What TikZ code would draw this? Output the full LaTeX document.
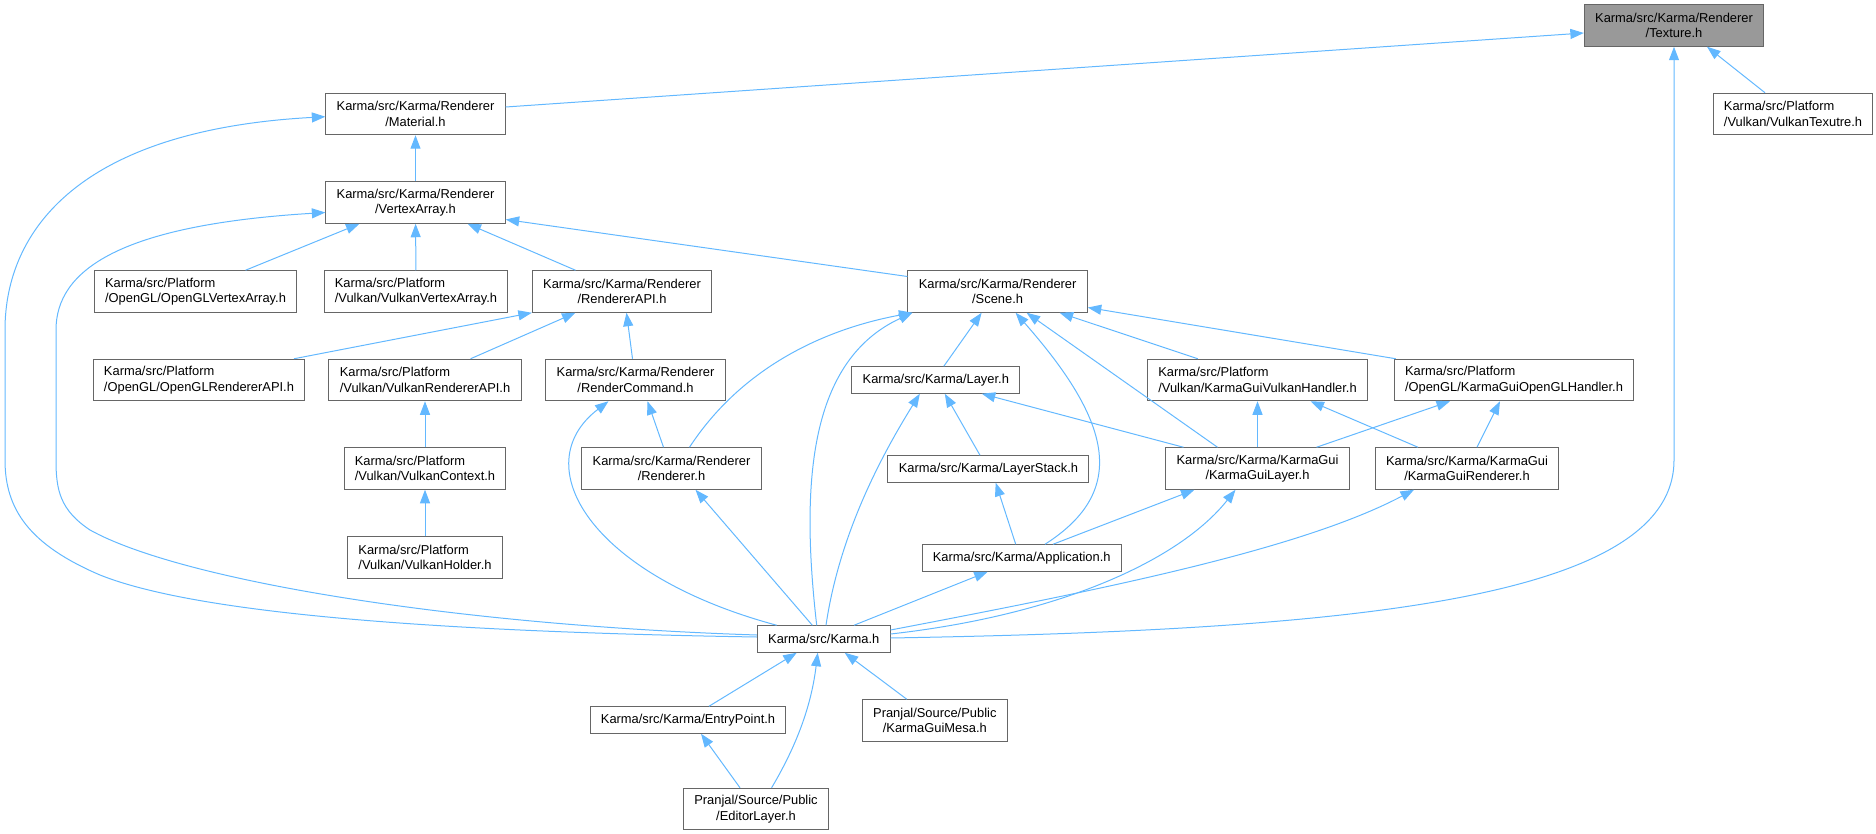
\documentclass[tikz,border=0pt]{standalone}
\usepackage{fontspec}
\setmainfont{Liberation Sans}
\usetikzlibrary{arrows.meta}
\definecolor{edgeblue}{HTML}{63B8FF}
\definecolor{boxgray}{HTML}{666666}
\definecolor{hilite}{HTML}{999999}
\begin{document}
\begin{tikzpicture}[x=1pt, y=-1pt, >={Triangle[length=13.5pt,width=10pt]}]

    \tikzset{file/.style={%
      draw=boxgray,%
      line width=1pt,%
      rectangle,%
      font=\fontsize{12.9}{15.5}\selectfont,%
      align=center,%
      inner xsep=10.8pt,%
      inner ysep=2pt,%
      minimum height=41.5pt}%
    };
    \tikzset{platform/.style={file, align=left}};
    \tikzset{oneline/.style={file, minimum height=26.5pt}};
    \tikzset{dep/.style={draw=edgeblue, line width=1pt, ->}};

    \useasboundingbox (0,0) rectangle (1876,834);

    %%%%%%%%%%%%%
    % renderer  %
    %%%%%%%%%%%%%
    \node[file, fill=hilite] (tex) at (1674,25.5) {Karma/src/Karma/Renderer\\/Texture.h};
    \node[file] (mat) at (415.5,114) {Karma/src/Karma/Renderer\\/Material.h};
    \node[platform] (vktex) at (1793,114) {Karma/src/Platform\\/Vulkan/VulkanTexutre.h};
    \node[file] (varr) at (415.5,202.5) {Karma/src/Karma/Renderer\\/VertexArray.h};

    \node[platform] (glva) at (195.5,291.5) {Karma/src/Platform\\/OpenGL/OpenGLVertexArray.h};
    \node[platform] (vkva) at (416,291.5) {Karma/src/Platform\\/Vulkan/VulkanVertexArray.h};
    \node[file] (rapi) at (622,291.5) {Karma/src/Karma/Renderer\\/RendererAPI.h};
    \node[file] (scene) at (997.6,291.5) {Karma/src/Karma/Renderer\\/Scene.h};

    \node[platform] (glrapi) at (199,380) {Karma/src/Platform\\/OpenGL/OpenGLRendererAPI.h};
    \node[platform] (vkrapi) at (425,380) {Karma/src/Platform\\/Vulkan/VulkanRendererAPI.h};
    \node[file] (rcmd) at (635.5,380) {Karma/src/Karma/Renderer\\/RenderCommand.h};
    \node[oneline] (layer) at (935.8,380) {Karma/src/Karma/Layer.h};
    \node[platform] (vkgui) at (1257.5,380) {Karma/src/Platform\\/Vulkan/KarmaGuiVulkanHandler.h};
    \node[platform] (glgui) at (1514,380) {Karma/src/Platform\\/OpenGL/KarmaGuiOpenGLHandler.h};

    \node[platform] (vkctx) at (425,468.5) {Karma/src/Platform\\/Vulkan/VulkanContext.h};
    \node[file] (rend) at (671.5,468.5) {Karma/src/Karma/Renderer\\/Renderer.h};
    \node[oneline] (lstack) at (988.4,469) {Karma/src/Karma/LayerStack.h};
    \node[file] (guilayer) at (1257.5,468.5) {Karma/src/Karma/KarmaGui\\/KarmaGuiLayer.h};
    \node[file] (guirend) at (1467,468.5) {Karma/src/Karma/KarmaGui\\/KarmaGuiRenderer.h};

    \node[platform] (vkhold) at (425,557.5) {Karma/src/Platform\\/Vulkan/VulkanHolder.h};
    \node[oneline] (app) at (1021.7,558) {Karma/src/Karma/Application.h};

    %%%%%%%%%%%%%
    % includers %
    %%%%%%%%%%%%%
    \node[oneline] (karma) at (823.7,639) {Karma/src/Karma.h};
    \node[oneline] (entry) at (688,720) {Karma/src/Karma/EntryPoint.h};
    \node[file] (mesa) at (934.8,720.5) {Pranjal/Source/Public\\/KarmaGuiMesa.h};
    \node[file] (editor) at (756,809) {Pranjal/Source/Public\\/EditorLayer.h};

    % into Texture.h
    \draw[dep] ([yshift=7pt]mat.east) -- ([yshift=-7.5pt]tex.west);
    \draw[dep] ([xshift=-28pt]vktex.north) -- ([xshift=33pt]tex.south);
    \draw[dep] ([yshift=1pt]karma.east) .. controls (1350,630) and (1674,600) .. (1674,460) -- (tex.south);

    % into Material.h and VertexArray.h
    \draw[dep] (varr) -- (mat);
    \draw[dep] ([yshift=2pt]karma.west) .. controls (450,632) and (200,615) .. (100,575)
      .. controls (30,545) and (5,510) .. (5,460) -- (5,330)
      .. controls (5,230) and (80,130) .. ([yshift=-2.7pt]mat.west);
    \draw[dep] ([yshift=4pt]karma.west) .. controls (450,625) and (180,580) .. (90,530)
      .. controls (60,510) and (56,490) .. (56,460) -- (56,330)
      .. controls (56,270) and (120,225) .. ([yshift=-10pt]varr.west);
    \draw[dep] ([xshift=50pt]glva.north) -- ([xshift=-56pt]varr.south);
    \draw[dep] (vkva) -- (varr);
    \draw[dep] ([xshift=-46.5pt]rapi.north) -- ([xshift=52pt]varr.south);
    \draw[dep] ([yshift=15pt]scene.west) -- ([yshift=-17pt]varr.east);

    % into RendererAPI.h
    \draw[dep] ([xshift=95pt]glrapi.north) -- (rapi.south west);
    \draw[dep] ([xshift=45.6pt]vkrapi.north) -- ([xshift=-46.5pt]rapi.south);
    \draw[dep] ([xshift=-3pt]rcmd.north) -- ([xshift=4.5pt]rapi.south);
    \draw[dep] (vkctx) -- (vkrapi);
    \draw[dep] (vkhold) -- (vkctx);

    % into RenderCommand.h and Renderer.h
    \draw[dep] ([xshift=-8pt]rend.north) -- ([xshift=12pt]rcmd.south);
    \draw[dep] ([xshift=-47pt]karma.north) .. controls (590,575) and (525,465) .. ([xshift=-27pt]rcmd.south);
    \draw[dep] ([xshift=-11.4pt]karma.north) -- ([xshift=24pt]rend.south);

    % into Scene.h
    \draw[dep] ([xshift=18pt]rend.north) .. controls (740,370) and (820,330) .. ([xshift=5pt]scene.south west);
    \draw[dep] ([xshift=-7pt]karma.north) .. controls (800,480) and (810,360) .. ([xshift=5pt]scene.south west);
    \draw[dep] ([xshift=8pt]layer.north) -- ([xshift=-16pt]scene.south);
    \draw[dep] ([xshift=23.3pt]app.north) .. controls (1130,490) and (1110,420) .. ([xshift=18pt]scene.south);
    \draw[dep] ([xshift=-40pt]guilayer.north) -- ([xshift=29pt]scene.south);
    \draw[dep] ([xshift=-59.7pt]vkgui.north) -- ([xshift=62pt]scene.south);
    \draw[dep] ([xshift=2pt]glgui.north west) -- ([yshift=-16pt]scene.east);

    % into Layer.h and LayerStack.h
    \draw[dep] ([xshift=2.3pt]karma.north) .. controls (840,530) and (885,450) .. ([xshift=-16pt]layer.south);
    \draw[dep] ([xshift=-8.4pt]lstack.north) -- ([xshift=9pt]layer.south);
    \draw[dep] ([xshift=-74pt]guilayer.north) -- ([xshift=46pt]layer.south);
    \draw[dep] ([xshift=-6pt]app.north) -- ([xshift=7.3pt]lstack.south);

    % into the KarmaGui handlers
    \draw[dep] (guilayer) -- (vkgui);
    \draw[dep] ([xshift=-49pt]guirend.north) -- ([xshift=53pt]vkgui.south);
    \draw[dep] ([xshift=59pt]guilayer.north) -- ([xshift=-64pt]glgui.south);
    \draw[dep] ([xshift=10pt]guirend.north) -- ([xshift=-14pt]glgui.south);

    % into KarmaGuiLayer.h, KarmaGuiRenderer.h, Application.h
    \draw[dep] ([xshift=31.3pt]app.north) -- ([xshift=-63pt]guilayer.south);
    \draw[dep] ([xshift=30.3pt]karma.north) -- ([xshift=-34pt]app.south);
    \draw[dep] ([yshift=9pt]karma.east) .. controls (1100,590) and (1300,550) .. ([xshift=-53pt]guirend.south);
    \draw[dep] ([yshift=5pt]karma.east) .. controls (1060,615) and (1180,560) .. ([xshift=-22pt]guilayer.south);

    % into Karma.h and EntryPoint.h
    \draw[dep] ([xshift=21pt]entry.north) -- ([xshift=-27pt]karma.south);
    \draw[dep] ([xshift=15.6pt]editor.north) .. controls (800,740) and (812,700) .. ([xshift=-6pt]karma.south);
    \draw[dep] ([xshift=-16pt]editor.north) -- ([xshift=13pt]entry.south);
    \draw[dep] ([xshift=-28pt]mesa.north) -- ([xshift=21pt]karma.south);

  \end{tikzpicture}
\end{document}
